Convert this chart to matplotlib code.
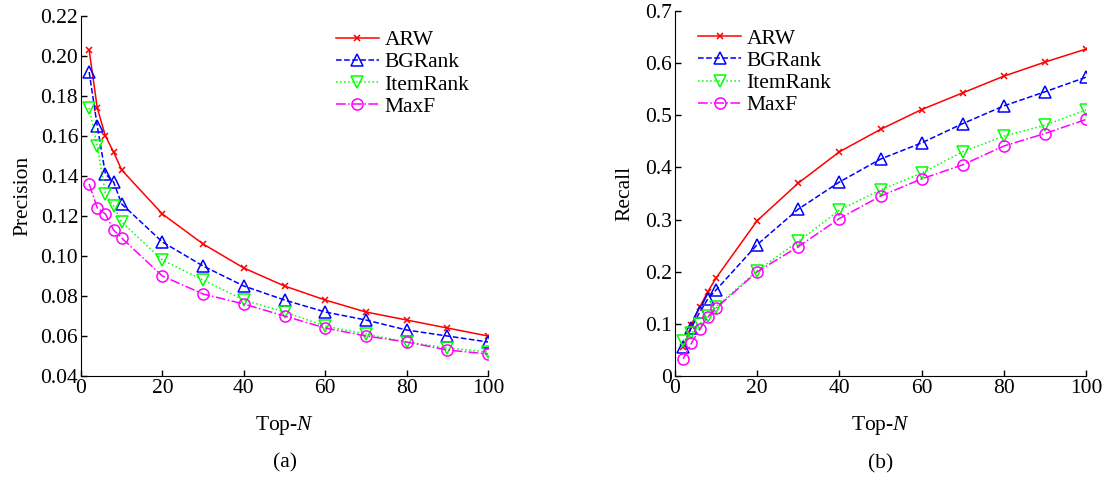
import matplotlib.pyplot as plt

plt.rcParams["font.family"] = ["Liberation Serif", "DejaVu Serif"]
plt.rcParams["mathtext.fontset"] = "custom"
plt.rcParams["mathtext.it"] = "Liberation Serif:italic"
plt.rcParams["mathtext.rm"] = "Liberation Serif"

top_n = [2, 4, 6, 8, 10, 20, 30, 40, 50, 60, 70, 80, 90, 100]

prec_arw = [0.203, 0.174, 0.160, 0.152, 0.143, 0.121, 0.106, 0.094, 0.085, 0.078, 0.072, 0.068, 0.064, 0.060]
prec_bgrank = [0.192, 0.165, 0.141, 0.137, 0.126, 0.107, 0.095, 0.085, 0.078, 0.072, 0.068, 0.063, 0.060, 0.057]
prec_itemrank = [0.174, 0.155, 0.131, 0.125, 0.117, 0.098, 0.088, 0.078, 0.072, 0.065, 0.061, 0.057, 0.054, 0.052]
prec_maxf = [0.136, 0.124, 0.121, 0.113, 0.109, 0.090, 0.081, 0.076, 0.070, 0.064, 0.060, 0.057, 0.053, 0.051]

rec_arw = [0.055, 0.098, 0.132, 0.162, 0.188, 0.298, 0.370, 0.430, 0.473, 0.511, 0.543, 0.575, 0.602, 0.627]
rec_bgrank = [0.055, 0.093, 0.122, 0.148, 0.165, 0.252, 0.320, 0.372, 0.416, 0.447, 0.484, 0.518, 0.545, 0.573]
rec_itemrank = [0.068, 0.082, 0.100, 0.115, 0.133, 0.202, 0.258, 0.318, 0.357, 0.389, 0.430, 0.460, 0.481, 0.510]
rec_maxf = [0.033, 0.063, 0.090, 0.113, 0.130, 0.200, 0.248, 0.302, 0.345, 0.378, 0.405, 0.441, 0.465, 0.492]

names = ["ARW", "BGRank", "ItemRank", "MaxF"]
styles = [
    dict(color="#ff0000", linestyle="-", marker="x", markersize=5),
    dict(color="#0000ff", linestyle="--", marker="^", markersize=9),
    dict(color="#00ff00", linestyle=":", marker="v", markersize=9),
    dict(color="#ff00ff", linestyle="-.", marker="o", markersize=8),
]

FS = 15.5

fig = plt.figure(figsize=(11.07, 4.78), dpi=100)
W, H = 1107, 478
ax1 = fig.add_axes([81 / W, 1 - 376 / H, (488 - 81) / W, (376 - 16) / H])
ax2 = fig.add_axes([675 / W, 1 - 376 / H, (1086 - 675) / W, (376 - 11) / H])


def draw(ax, series, ylabel, ylim, yticks, yfmt, legend_anchor, cap, ylabelpad):
    for name, ys, st in zip(names, series, styles):
        ax.plot(top_n, ys, label=name, linewidth=1.1, markerfacecolor="none",
                markeredgewidth=1.1, **st)
    ax.set_xlim(0, 100)
    ax.set_ylim(*ylim)
    ax.set_xticks(range(0, 101, 20))
    ax.set_yticks(yticks)
    ax.set_yticklabels([yfmt.format(v) if v != 0 else "0" for v in yticks])
    for s in ["top", "right"]:
        ax.spines[s].set_visible(False)
    ax.tick_params(direction="in", labelsize=FS, length=4, width=1, pad=2)
    ax.set_xlabel("Top-$\\mathit{N}$", fontsize=FS, labelpad=12)
    ax.set_ylabel(ylabel, fontsize=FS, labelpad=ylabelpad)
    ax.legend(loc="upper left", bbox_to_anchor=legend_anchor, frameon=False, fontsize=FS,
              handlelength=2.0, handletextpad=0.25, labelspacing=0.1, borderaxespad=0)
    ax.text(0.5, -0.215, cap, transform=ax.transAxes, ha="center", va="top", fontsize=FS)


draw(ax1, [prec_arw, prec_bgrank, prec_itemrank, prec_maxf], "Precision",
     (0.04, 0.22), [0.04 + 0.02 * i for i in range(10)], "{:.2f}",
     (0.605, 0.985), "(a)", 6)
draw(ax2, [rec_arw, rec_bgrank, rec_itemrank, rec_maxf], "Recall",
     (0, 0.7), [0.1 * i for i in range(8)], "{:.1f}",
     (0.035, 0.975), "(b)", 8)

fig.savefig("out.png", dpi=100)
